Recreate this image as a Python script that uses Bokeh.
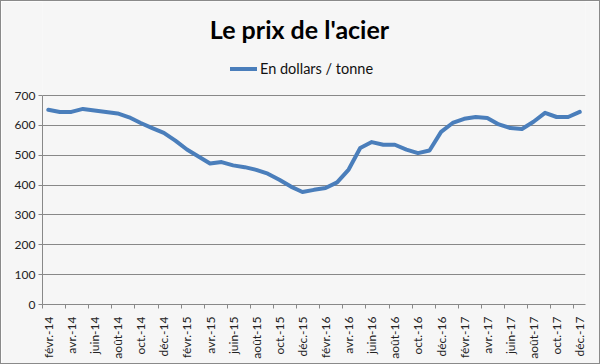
import math
from bokeh.plotting import figure
from bokeh.models import Range1d, FixedTicker, Legend, LegendItem, ColumnDataSource, Label
from bokeh.embed import file_html
from bokeh.resources import INLINE

title_text = "Le prix de l'acier"
series_name = "En dollars / tonne"

months = [
    "févr.-14", "mars-14", "avr.-14", "mai-14", "juin-14", "juil.-14", "août-14", "sept.-14", "oct.-14", "nov.-14", "déc.-14",
    "janv.-15", "févr.-15", "mars-15", "avr.-15", "mai-15", "juin-15", "juil.-15", "août-15", "sept.-15", "oct.-15", "nov.-15", "déc.-15",
    "janv.-16", "févr.-16", "mars-16", "avr.-16", "mai-16", "juin-16", "juil.-16", "août-16", "sept.-16", "oct.-16", "nov.-16", "déc.-16",
    "janv.-17", "févr.-17", "mars-17", "avr.-17", "mai-17", "juin-17", "juil.-17", "août-17", "sept.-17", "oct.-17", "nov.-17", "déc.-17",
]

prices = [
    652, 645, 645, 655, 650, 645, 640, 627, 608, 591, 575,
    549, 519, 496, 472, 477, 466, 460, 451, 438, 418, 395, 377,
    384, 390, 409, 452, 524, 544, 535, 535, 519, 507, 516, 578,
    608, 622, 628, 625, 603, 591, 588, 612, 642, 628, 628, 645,
]

y_ticks = [0, 100, 200, 300, 400, 500, 600, 700]
y_max = 700

n = len(months)
x_centers = [i + 0.5 for i in range(n)]
source = ColumnDataSource(data=dict(x=x_centers, price=prices, month=months))

# frame spans the full height above the axis; the visible value scale stops at 700
frame_h = 303
top_pad = 94
y_end = y_max * frame_h / (frame_h - top_pad)

bg = "#f6f6f6"
p = figure(
    width=600, height=364,
    output_backend="svg", toolbar_location=None,
    x_range=Range1d(0, n), y_range=Range1d(0, y_end),
    min_border_left=41, min_border_right=16, min_border_top=0, min_border_bottom=61,
    background_fill_color=bg, border_fill_color=bg,
    outline_line_color=None,
    title=None,
)
p.styles = {"border": "1px solid #8a8a8a", "box-sizing": "border-box"}

r = p.line("x", "price", source=source, line_color="#4A7EBB", line_width=4,
           line_join="round", line_cap="round")

# x axis: labels at category centers every 2 months, ticks at boundaries
label_pos = [x_centers[i] for i in range(0, n, 2)]
tick_pos = [float(i) for i in range(0, n, 2)]
p.xaxis.ticker = FixedTicker(ticks=label_pos, minor_ticks=tick_pos)
p.xaxis.major_label_overrides = {x_centers[i]: months[i] for i in range(0, n, 2)}
p.xaxis.major_label_orientation = math.pi / 2
p.xaxis.major_tick_out = 0
p.xaxis.major_tick_in = 0
p.xaxis.minor_tick_out = 4
p.xaxis.minor_tick_in = 0
p.xaxis.minor_tick_line_color = "#888888"
p.xaxis.axis_line_color = "#888888"
p.xaxis.major_label_standoff = 8
p.xaxis.major_label_text_font = "Lato"
p.xaxis.major_label_text_font_size = "12px"
p.xaxis.major_label_text_color = "#222222"

# y axis
p.yaxis.ticker = FixedTicker(ticks=y_ticks)
p.yaxis.bounds = (0, y_max)
p.yaxis.major_tick_out = 4
p.yaxis.major_tick_in = 0
p.yaxis.minor_tick_line_color = None
p.yaxis.axis_line_color = "#888888"
p.yaxis.major_tick_line_color = "#888888"
p.yaxis.major_label_standoff = 3
p.yaxis.major_label_text_font = "Lato"
p.yaxis.major_label_text_font_size = "12px"
p.yaxis.major_label_text_color = "#222222"

p.xgrid.grid_line_color = None
p.ygrid.ticker = FixedTicker(ticks=y_ticks)
p.ygrid.grid_line_color = "#888888"
p.ygrid.grid_line_width = 1

legend = Legend(
    items=[LegendItem(label=series_name, renderers=[r])],
    location=(188, 227),
    orientation="horizontal",
    background_fill_alpha=0, border_line_color=None,
    padding=0, margin=0, spacing=0,
    label_standoff=3, glyph_width=27, glyph_height=17,
    label_text_font="Lato", label_text_font_size="14.5px", label_text_color="#111111",
)
p.add_layout(legend, "center")

title = Label(x=n * (298 - 41) / 543, y=y_end * (303 - 27) / 303, text=title_text,
              text_align="center", text_baseline="middle",
              text_font="Lato", text_font_style="bold", text_font_size="25px",
              text_color="#000000")
p.add_layout(title)

open("out.html", "w").write(file_html(p, INLINE))
